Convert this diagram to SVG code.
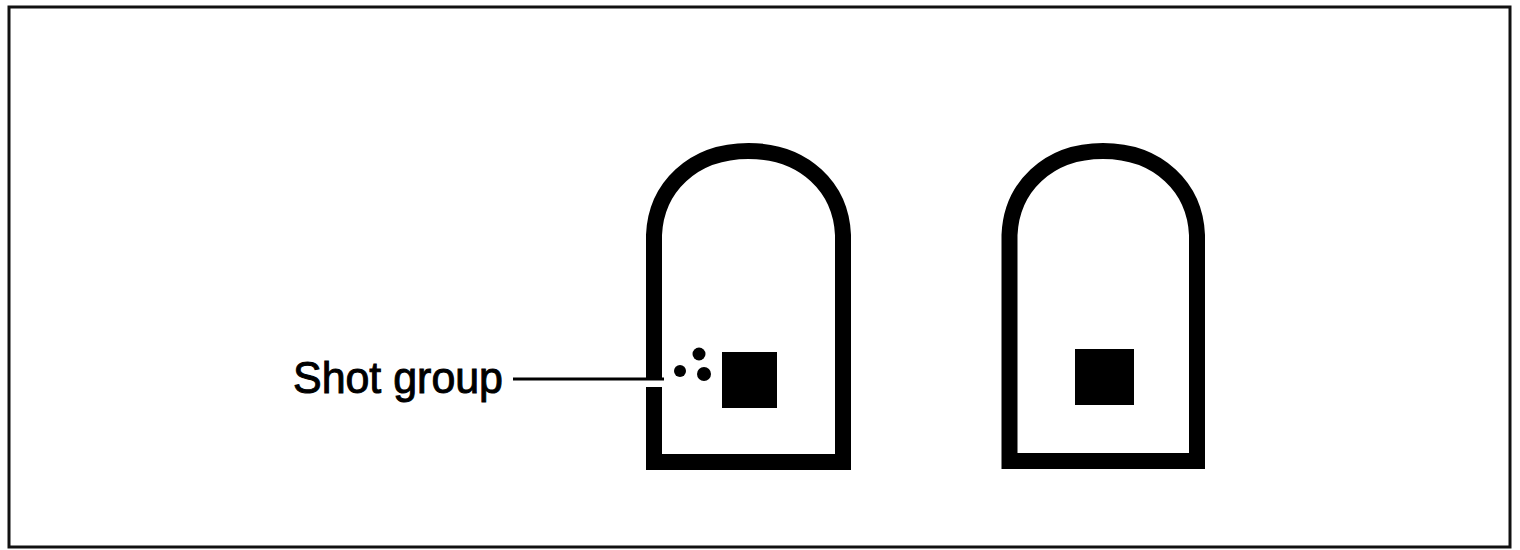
<svg xmlns="http://www.w3.org/2000/svg" width="1520" height="550" viewBox="0 0 1520 550">
<style>
.frame{fill:none;stroke:#111;stroke-width:3}
.target{fill:none;stroke:#000;stroke-width:16;stroke-linejoin:miter}
.blk{fill:#000}
.lead{stroke:#000;stroke-width:3;fill:none}
.lbl{font-family:"Liberation Sans",Arial,sans-serif;font-size:45px;fill:#000;stroke:#000;stroke-width:1}
</style>
<rect width="1520" height="550" fill="#fff"/>
<rect class="frame" x="9" y="7" width="1501" height="540"/>
<g id="target-left">
<path class="target" d="M654,387 V462 H843 V235 C841,188 805,151 748.5,151 C692,151 656,188 654,235 V380"/>
<rect class="blk" x="722" y="352" width="55" height="56"/>
<circle class="blk" cx="680" cy="371" r="6"/>
<circle class="blk" cx="699" cy="354" r="6.5"/>
<circle class="blk" cx="704" cy="374" r="7"/>
</g>
<g id="target-right">
<path class="target" d="M1009.5,461 H1197 V235 C1195,188 1159,151 1103,151 C1047,151 1011.5,188 1009.5,235 Z"/>
<rect class="blk" x="1075" y="349" width="59" height="56"/>
</g>
<g id="label-shot-group">
<text class="lbl" x="293" y="393" textLength="210" lengthAdjust="spacingAndGlyphs">Shot group</text>
</g>
<g id="connectors">
<path class="lead" d="M513,379 H664"/>
</g>
</svg>
